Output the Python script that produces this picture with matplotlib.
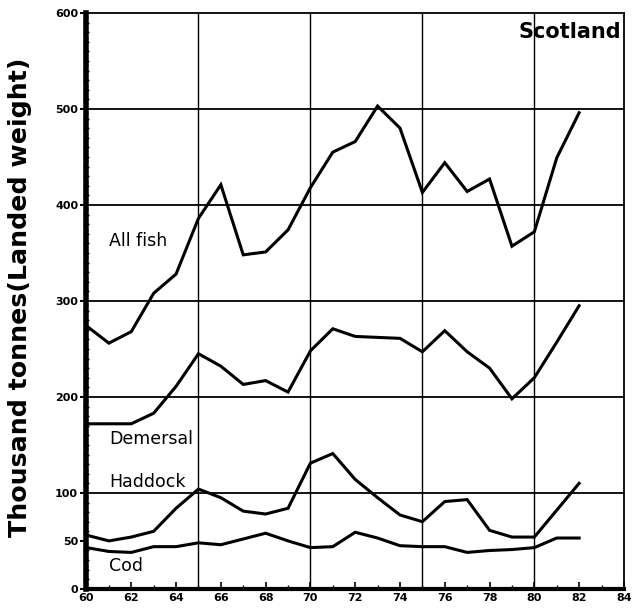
import matplotlib.pyplot as plt
import numpy as np
from matplotlib.ticker import MultipleLocator

years = list(range(60, 83))
all_fish = [274, 256, 268, 308, 328, 386, 421, 348, 351, 374, 418, 455, 466, 503,
            480, 413, 444, 414, 427, 357, 372, 449, 496]
demersal = [172, 172, 172, 183, 211, 245, 232, 213, 217, 205, 248, 271, 263, 262,
            261, 247, 269, 247, 230, 198, 220, 257, 295]
haddock = [56, 50, 54, 60, 84, 104, 95, 81, 78, 84, 131, 141, 114, 95,
           77, 70, 91, 93, 61, 54, 54, 82, 110]
cod = [43, 39, 38, 44, 44, 48, 46, 52, 58, 50, 43, 44, 59, 53,
       45, 44, 44, 38, 40, 41, 43, 53, 53]

series_labels = ['All fish', 'Demersal', 'Haddock', 'Cod']
label_pos = [(61.0, 362), (61.0, 156), (61.0, 111), (61.0, 24)]
x_ticks = list(range(60, 85, 2))
y_ticks = [0, 50, 100, 200, 300, 400, 500, 600]
grid_x = [65, 70, 75, 80]
grid_y = [100, 200, 300, 400, 500]

fig = plt.figure(figsize=(6.36, 6.16), dpi=100)
ax = fig.add_axes([0.136, 0.044, 0.845, 0.935])

for gx in grid_x:
    ax.axvline(gx, color='black', lw=1.0, zorder=1)
for gy in grid_y:
    ax.axhline(gy, color='black', lw=1.3, zorder=1)

for vals in [all_fish, demersal, haddock, cod]:
    ax.plot(years, vals, color='black', lw=2.2, solid_joinstyle='miter', zorder=3)

for text, (tx, ty) in zip(series_labels, label_pos):
    ax.text(tx, ty, text, fontsize=12.5, va='center', ha='left', family='DejaVu Sans')

ax.text(0.995, 0.985, 'Scotland', transform=ax.transAxes, ha='right', va='top',
        fontsize=15, fontweight='bold')

ax.set_xlim(60, 84)
ax.set_ylim(0, 600)
ax.set_xticks(x_ticks)
ax.set_xticklabels([str(t) for t in x_ticks], fontsize=8, fontweight='heavy')
ax.xaxis.set_minor_locator(MultipleLocator(1))
ax.set_yticks(y_ticks)
ax.set_yticklabels([str(t) for t in y_ticks], fontsize=8, fontweight='heavy')
ax.yaxis.set_minor_locator(MultipleLocator(10))

ax.tick_params(axis='x', which='major', direction='in', length=5, width=1.2, pad=3)
ax.tick_params(axis='x', which='minor', direction='in', length=3, width=1.0)
ax.tick_params(axis='y', which='major', direction='out', length=4, width=1.5, pad=2)
ax.tick_params(axis='y', which='minor', direction='inout', length=4, width=1.0)

ax.spines['left'].set_linewidth(4)
ax.spines['bottom'].set_linewidth(3)
ax.spines['top'].set_linewidth(1.3)
ax.spines['right'].set_linewidth(1.3)

ax.set_ylabel('Thousand tonnes(Landed weight)', fontsize=18.2, fontweight='bold')
ax.yaxis.set_label_coords(-0.102, 0.506)

fig.savefig('out.png', dpi=100)
